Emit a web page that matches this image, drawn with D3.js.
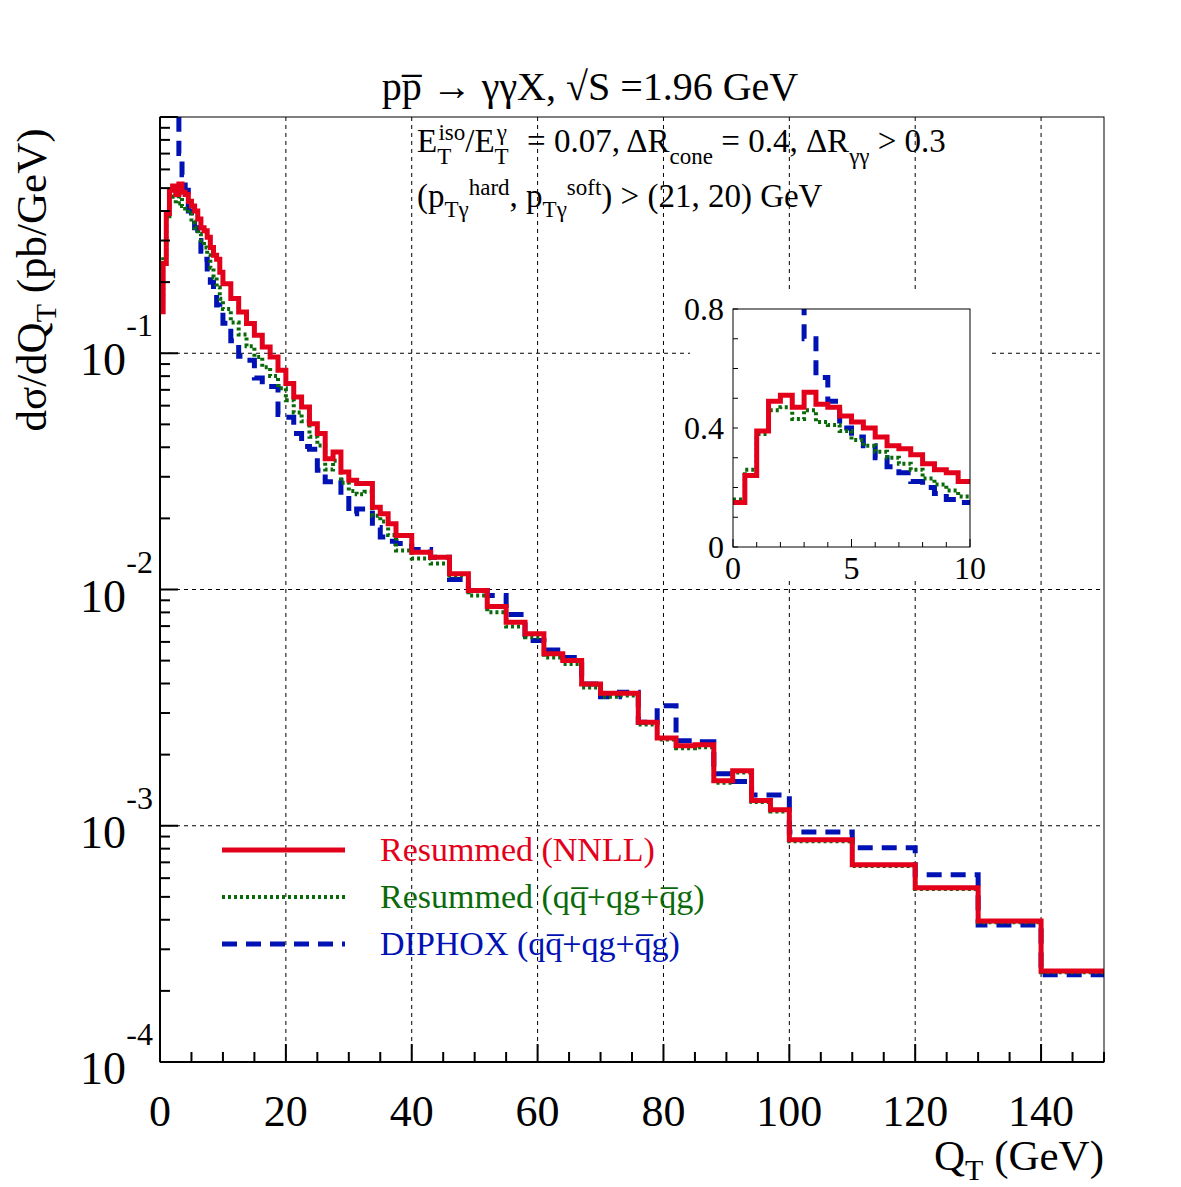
<!DOCTYPE html>
<html><head><meta charset="utf-8">
<script src="https://cdn.jsdelivr.net/npm/d3@7"></script>
<style>body{margin:0;background:#fff}svg{font-family:"Liberation Serif","DejaVu Serif",serif}</style>
</head><body><svg id="c" width="1181" height="1187"></svg>
<script>
// bin edges (GeV)
const edgesLow = [0,0.5,1,1.5,2,2.5,3,3.5,4,4.5,5,5.5,6,6.5,7,7.5,8,8.5,9,9.5,10];
const edgesMid = [11.25,12.5,13.75,15,16.25,17.5,18.75,20,21.25,22.5,23.75,25,26.25,27.5,28.75,30,31.25,32.5,33.75,35,36.25,37.5];
const edgesHigh = [40,43,46,49,52,55,58,61,64,67,70,73,76,79,82,85,88,91,94,97,100,110,120,130,140,150];
// series values per bin
const redLow = [0.15,0.24,0.39,0.49,0.51,0.47,0.52,0.48,0.47,0.44,0.42,0.40,0.37,0.34,0.33,0.31,0.28,0.26,0.25,0.22];
const greenLow = [0.16,0.26,0.38,0.46,0.47,0.43,0.46,0.42,0.41,0.39,0.36,0.34,0.32,0.30,0.28,0.26,0.23,0.21,0.19,0.17];
const blueLow = [null,null,null,null,null,5,0.70,0.57,0.49,0.40,0.37,0.34,0.30,0.27,0.25,0.22,0.20,0.18,0.16,0.15];
const redMid = [0.197,0.1706,0.1496,0.1336,0.1191,0.1064,0.0965,0.0847,0.0744,0.0653,0.0592,0.0503,0.0457,0.0358,0.0382,0.0314,0.0290,0.0281,0.0281,0.0223,0.0209,0.0190];
const greenMid = [0.154,0.135,0.120,0.107,0.0965,0.0872,0.0801,0.0711,0.0632,0.0562,0.0515,0.0443,0.0407,0.0322,0.0351,0.0283,0.0261,0.0253,0.0259,0.0205,0.0194,0.0170];
const blueMid = [0.134,0.113,0.0972,0.0935,0.0786,0.0724,0.0724,0.0551,0.0536,0.0457,0.0403,0.0392,0.0320,0.0286,0.0290,0.0251,0.0209,0.0219,0.0219,0.0183,0.0167,0.0160];
const redHigh = [0.01694,0.01439,0.01371,0.01166,0.00990,0.00848,0.00727,0.00649,0.00534,0.00500,0.00398,0.00364,0.00364,0.00274,0.00235,0.00218,0.00220,0.00155,0.00171,0.00128,0.00117,0.000873,0.000684,0.000546,0.000395,0.000243];
const greenHigh = [0.01463,0.01353,0.01288,0.01146,0.00944,0.00802,0.00697,0.00628,0.00516,0.00484,0.00385,0.00352,0.00356,0.00268,0.00232,0.00213,0.00215,0.00152,0.00168,0.00126,0.00115,0.00086,0.000675,0.00054,0.00039,0.00024];
const blueHigh = [0.01567,0.01477,0.01371,0.01102,0.00990,0.00944,0.00783,0.00608,0.00555,0.00516,0.00398,0.00352,0.00367,0.00274,0.00322,0.00229,0.00227,0.00166,0.00154,0.00135,0.00135,0.00094,0.000807,0.00062,0.00038,0.000234];
const xTicks = [0,20,40,60,80,100,120,140];
const yDecades = [-4,-3,-2,-1];
const insetXTicks = [0,5,10];
const insetYTicks = [0,0.4,0.8];
const legendLabels = ["Resummed (NNLL)","Resummed (qq\u0305+qg+q\u0305g)","DIPHOX (qq\u0305+qg+q\u0305g)"];

const edges = [...edgesLow, ...edgesMid, ...edgesHigh];
const series = [
 {name:"red", vals:[...redLow,...redMid,...redHigh], color:"#e3001b", w:5, dash:null},
 {name:"green", vals:[...greenLow,...greenMid,...greenHigh], color:"#0a6a0a", w:4, dash:"3,3"},
 {name:"blue", vals:[...blueLow,...blueMid,...blueHigh], color:"#0012b4", w:5, dash:"15,9"}
];
const insetEdges = edgesLow;

const svg = d3.select("#c");
const L=160,R=1104,T=117,B=1062;
const x = d3.scaleLinear().domain([0,150]).range([L,R]);
const y = d3.scaleLog().domain([1e-4,1]).range([B,T]);

const grid = svg.append("g").attr("stroke","#000").attr("stroke-width",1).attr("stroke-dasharray","4,4");
xTicks.slice(1).forEach(t=>grid.append("line").attr("x1",x(t)).attr("x2",x(t)).attr("y1",T).attr("y2",B));
yDecades.slice(1).forEach(d=>grid.append("line").attr("x1",L).attr("x2",R).attr("y1",y(Math.pow(10,d))).attr("y2",y(Math.pow(10,d))));

svg.append("defs").html(`<clipPath id="cp"><rect x="${L}" y="${T}" width="${R-L}" height="${B-T}"/></clipPath><clipPath id="cpi"><rect x="733" y="309" width="237" height="238"/></clipPath>`);

function stepPts(ed, vals){
  const pts = vals.map((v,i)=>[ed[i],v]);
  pts.push([ed[vals.length], vals[vals.length-1]]);
  return pts;
}
const gCurves = svg.append("g").attr("clip-path","url(#cp)");
series.slice().reverse().forEach(s=>{
  const line = d3.line().defined(d=>d[1]!=null).curve(d3.curveStepAfter).x(d=>x(d[0])).y(d=>y(d[1]));
  gCurves.append("path").attr("d",line(stepPts(edges,s.vals))).attr("fill","none")
   .attr("stroke",s.color).attr("stroke-width",s.w).attr("stroke-dasharray",s.dash);
});

svg.append("rect").attr("x",L).attr("y",T).attr("width",R-L).attr("height",B-T).attr("fill","none").attr("stroke","#000").attr("stroke-width",1);
svg.append("line").attr("x1",L).attr("x2",R).attr("y1",B).attr("y2",B).attr("stroke","#000").attr("stroke-width",2);
svg.append("line").attr("x1",L).attr("x2",L).attr("y1",T).attr("y2",B).attr("stroke","#000").attr("stroke-width",2);
const tk = svg.append("g").attr("stroke","#000").attr("stroke-width",2);
d3.range(0,151,5).forEach(t=>{const len = t%20===0?18:10; tk.append("line").attr("x1",x(t)).attr("x2",x(t)).attr("y1",B).attr("y2",B-len);});
yDecades.concat([0]).forEach(d=>{
  tk.append("line").attr("x1",L).attr("x2",L+18).attr("y1",y(Math.pow(10,d))).attr("y2",y(Math.pow(10,d)));
  if(d<0) for(let m=2;m<=9;m++){const v=m*Math.pow(10,d); tk.append("line").attr("x1",L).attr("x2",L+10).attr("y1",y(v)).attr("y2",y(v));}
});
xTicks.forEach(t=>svg.append("text").attr("x",x(t)).attr("y",1126).attr("text-anchor","middle").attr("font-size",44).text(t));
yDecades.forEach(d=>{
  const yy=y(Math.pow(10,d));
  svg.append("text").attr("x",126).attr("y",yy+22).attr("text-anchor","end").attr("font-size",46).text("10");
  svg.append("text").attr("x",153).attr("y",yy-17).attr("text-anchor","end").attr("font-size",32).text(String(d));
});
const xt = svg.append("text").attr("x",1104).attr("y",1170).attr("text-anchor","end").attr("font-size",43);
xt.append("tspan").text("Q");xt.append("tspan").attr("font-size",30).attr("dy",10).text("T");xt.append("tspan").attr("dy",-10).text(" (GeV)");
const yt = svg.append("text").attr("transform","translate(46,280) rotate(-90)").attr("text-anchor","middle").attr("font-size",43);
yt.append("tspan").text("dσ/dQ");yt.append("tspan").attr("font-size",30).attr("dy",10).text("T");yt.append("tspan").attr("dy",-10).text(" (pb/GeV)");

svg.append("text").attr("x",590).attr("y",100).attr("text-anchor","middle").attr("font-size",40).text("pp\u0305 \u2192 γγX, √S =1.96 GeV");
const a1 = svg.append("text").attr("x",417).attr("y",152).attr("font-size",33);
a1.append("tspan").text("E");a1.append("tspan").attr("font-size",23).attr("dy",12).text("T");a1.append("tspan").attr("font-size",23).attr("dy",-24).attr("dx",-12).text("iso");
a1.append("tspan").attr("dy",12).text("/E");a1.append("tspan").attr("font-size",23).attr("dy",12).text("T");a1.append("tspan").attr("font-size",23).attr("dy",-24).attr("dx",-12).text("γ");
a1.append("tspan").attr("dy",12).attr("dx",12).text("  = 0.07, ΔR");a1.append("tspan").attr("font-size",23).attr("dy",12).text("cone");
a1.append("tspan").attr("dy",-12).text(" = 0.4, ΔR");a1.append("tspan").attr("font-size",23).attr("dy",12).text("γγ");a1.append("tspan").attr("dy",-12).text(" > 0.3");
const a2 = svg.append("text").attr("x",417).attr("y",207).attr("font-size",33);
a2.append("tspan").text("(p");a2.append("tspan").attr("font-size",23).attr("dy",10).text("Tγ");a2.append("tspan").attr("font-size",23).attr("dy",-22).text("hard");
a2.append("tspan").attr("dy",12).text(", p");a2.append("tspan").attr("font-size",23).attr("dy",10).text("Tγ");a2.append("tspan").attr("font-size",23).attr("dy",-22).text("soft");
a2.append("tspan").attr("dy",12).text(") > (21, 20) GeV");

series.forEach((s,i)=>{
  const ly = 850 + i*47;
  svg.append("line").attr("x1",222).attr("x2",345).attr("y1",ly).attr("y2",ly).attr("stroke",s.color).attr("stroke-width",s.w).attr("stroke-dasharray",s.dash);
  svg.append("text").attr("x",380).attr("y",ly+11).attr("font-size",34).attr("fill",s.color).text(legendLabels[i]);
});

const iL=733,iR=970,iT=309,iB=547;
svg.append("rect").attr("x",690).attr("y",290).attr("width",300).attr("height",290).attr("fill","#fff");
const xi = d3.scaleLinear().domain([0,10]).range([iL,iR]);
const yi = d3.scaleLinear().domain([0,0.8]).range([iB,iT]);
const gi = svg.append("g").attr("clip-path","url(#cpi)");
series.slice().reverse().forEach(s=>{
  const line = d3.line().defined(d=>d[1]!=null).curve(d3.curveStepAfter).x(d=>xi(d[0])).y(d=>yi(Math.min(d[1],2)));
  gi.append("path").attr("d",line(stepPts(insetEdges,s.vals.slice(0,20)))).attr("fill","none")
   .attr("stroke",s.color).attr("stroke-width",s.w).attr("stroke-dasharray",s.dash);
});
svg.append("rect").attr("x",iL).attr("y",iT).attr("width",iR-iL).attr("height",iB-iT).attr("fill","none").attr("stroke","#000").attr("stroke-width",1);
const ti = svg.append("g").attr("stroke","#000").attr("stroke-width",1);
d3.range(0,11,1).forEach(t=>ti.append("line").attr("x1",xi(t)).attr("x2",xi(t)).attr("y1",iB).attr("y2",iB-(t%5===0?8:5)));
d3.range(0,0.81,0.1).forEach(t=>ti.append("line").attr("x1",iL).attr("x2",iL+5).attr("y1",yi(t)).attr("y2",yi(t)));
insetXTicks.forEach(t=>svg.append("text").attr("x",xi(t)).attr("y",579).attr("text-anchor","middle").attr("font-size",32).text(t));
insetYTicks.forEach(t=>svg.append("text").attr("x",724).attr("y",yi(t)+11).attr("text-anchor","end").attr("font-size",32).text(t));
</script></body></html>
